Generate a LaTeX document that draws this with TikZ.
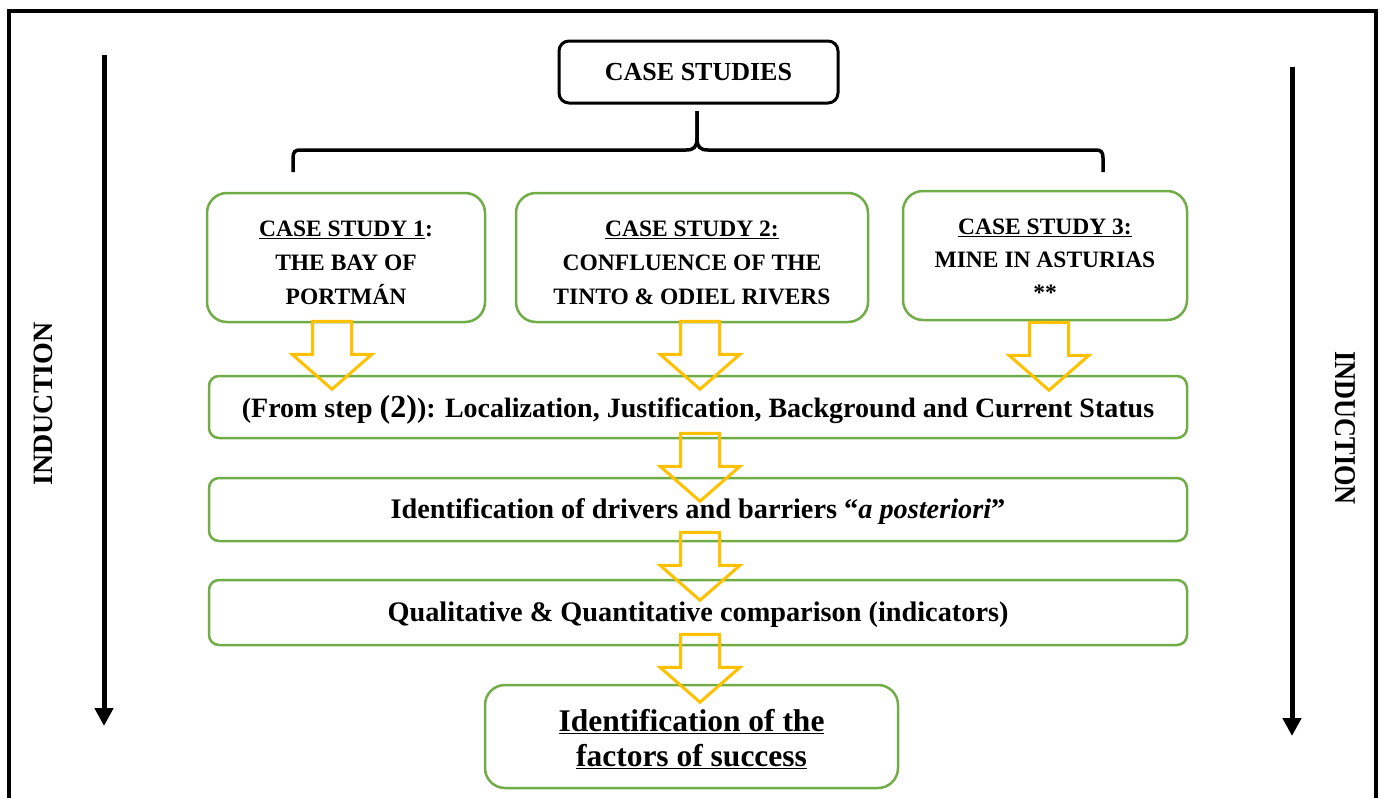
\documentclass[tikz,border=0pt]{standalone}
\usepackage{fontspec}
\setmainfont{Liberation Serif}
\usetikzlibrary{calc,arrows.meta}
\definecolor{boxgreen}{HTML}{70AD47}
\definecolor{arryellow}{HTML}{FFC000}
\begin{document}
\begin{tikzpicture}[x=1pt,y=-1pt,
  frame/.style={line width=3.5pt},
  gbox/.style={draw=boxgreen, line width=2.5pt, rounded corners=20pt, align=center, inner sep=0pt},
  wbox/.style={draw=boxgreen, line width=2.5pt, rounded corners=10pt, align=center, inner sep=0pt},
  blackbox/.style={draw=black, line width=3pt, rounded corners=10pt, inner sep=0pt},
  bigarrow/.style={line width=5pt, -{Triangle[length=18pt,width=18pt]}},
  bracepath/.style={line width=3.5pt},
  hollow/.style={draw=arryellow, line width=3pt, line join=miter},
  hollowarrow/.pic={\draw[hollow] (-19.5,0) -- (19.5,0) -- (19.5,33) -- (40,33) -- (0,68) -- (-40,33) -- (-19.5,33) -- cycle;},
  csfont/.style={font=\bfseries\fontsize{23.5}{34}\selectfont, align=center},
  stepfont/.style={font=\bfseries\fontsize{28.3}{33}\selectfont, align=center},
  indfont/.style={font=\bfseries\fontsize{28}{30}\selectfont}
  ]
\useasboundingbox (0,0) rectangle (1385,798);
\clip (0,0) rectangle (1385,798);
\draw[frame] (9,11) rectangle (1376,830);

% title box
\node[blackbox, minimum width=279pt, minimum height=62pt, font=\bfseries\fontsize{26}{30}\selectfont] (cs) at (698.5,72) {CASE STUDIES};

% brace
\coordinate (bL) at (293,172);
\coordinate (bR) at (1103,172);
\coordinate (bM) at (697,111);
\draw[bracepath] (bL) -- (293,158) .. controls (293,152) and (295,150) .. (300,150) -- (686,150) .. controls (694,150) and (697,147) .. (697,138) -- (bM);
\draw[bracepath] (bR) -- (1103,158) .. controls (1103,152) and (1101,150) .. (1096,150) -- (708,150) .. controls (700,150) and (697,147) .. (697,138) -- (bM);

% case study boxes
\node[gbox, minimum width=278pt, minimum height=129pt,
  label={[csfont, yshift=-5pt]center:{\underline{CASE STUDY 1}:\\THE BAY OF\\PORTMÁN}}] (c1) at (346,257.5) {};
\node[gbox, minimum width=352pt, minimum height=129pt,
  label={[csfont, yshift=-5pt]center:{\underline{CASE STUDY 2:}\\CONFLUENCE OF THE\\TINTO \& ODIEL RIVERS}}] (c2) at (692,257.5) {};
\node[gbox, minimum width=284pt, minimum height=129pt,
  label={[csfont, font=\bfseries\fontsize{23.5}{33}\selectfont, yshift=-4.5pt]center:{\underline{CASE STUDY 3:}\\MINE IN ASTURIAS\\**}}] (c3) at (1045,255.5) {};

% step boxes
\node[wbox, minimum width=978pt, minimum height=62pt,
  label={[stepfont, font=\bfseries\fontsize{28}{33}\selectfont, yshift=-3pt]center:{(From step {\fontsize{32}{33}\selectfont(2)}): Localization, Justification, Background and Current Status}}] (sA) at (698,407) {};
\node[wbox, minimum width=978pt, minimum height=63pt,
  label={[stepfont, yshift=-2pt]center:{Identification of drivers and barriers “\textit{a posteriori}”}}] (sB) at (698,509.5) {};
\node[wbox, minimum width=978pt, minimum height=65pt,
  label={[stepfont, yshift=-2pt]center:{Qualitative \& Quantitative comparison (indicators)}}] (sC) at (698,612.5) {};
\node[gbox, minimum width=413pt, minimum height=103pt,
  label={[font=\bfseries\fontsize{31.5}{35}\selectfont, align=center, yshift=-2.5pt]center:{\underline{Identification of the}\\\underline{factors of success}}}] (fin) at (691.5,736.5) {};

% hollow arrows
\pic at ($(c1.south)+(-14,-2)$) {hollowarrow};
\pic at ($(c2.south)+(8,-2)$) {hollowarrow};
\pic at ($(c3.south)+(4,1)$) {hollowarrow};
\pic at ($(sA.south)+(2,-6)$) {hollowarrow};
\pic at ($(sB.south)+(2,-10)$) {hollowarrow};
\pic at ($(sC.south)+(2,-12)$) {hollowarrow};

% induction arrows
\coordinate (la1) at (104,55);
\coordinate (la2) at (104,726);
\coordinate (ra1) at (1292,67);
\coordinate (ra2) at (1292,736);
\draw[bigarrow] (la1) -- (la2);
\draw[bigarrow] (ra1) -- (ra2);
\node[indfont, rotate=90] (indL) at (43,404) {INDUCTION};
\node[indfont, rotate=-90] (indR) at (1345,428) {\scalebox{0.94}[1.08]{INDUCTION}};
\end{tikzpicture}
\end{document}
